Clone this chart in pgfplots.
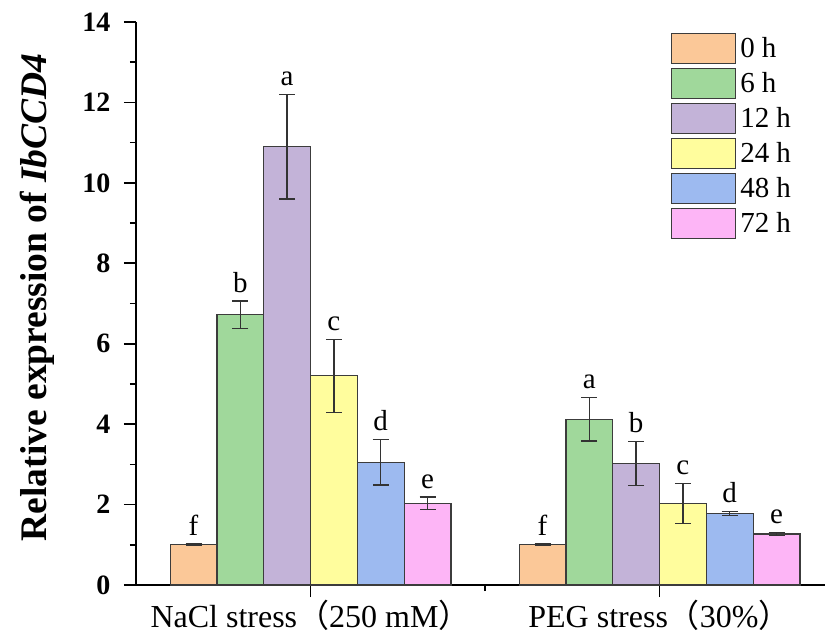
\documentclass[border=0pt]{standalone}
\usepackage{pgfplots}
\pgfplotsset{compat=1.18}
\usepackage{pgfplotstable}
\usepackage{fontspec}
\setmainfont{Liberation Serif}
\newfontfamily\cjk{Noto Sans CJK SC}
\definecolor{cA}{RGB}{251,200,152}
\definecolor{cB}{RGB}{160,216,155}
\definecolor{cC}{RGB}{195,179,216}
\definecolor{cD}{RGB}{255,253,157}
\definecolor{cE}{RGB}{157,186,240}
\definecolor{cF}{RGB}{253,181,246}
\definecolor{edge}{RGB}{60,60,60}
\pgfplotstableread{
x y err lab
1 1.00 0.02 f
2 1.00 0.02 f
}\tA
\pgfplotstableread{
x y err lab
1 6.72 0.34 b
2 4.12 0.54 a
}\tB
\pgfplotstableread{
x y err lab
1 10.90 1.30 a
2 3.02 0.55 b
}\tC
\pgfplotstableread{
x y err lab
1 5.20 0.91 c
2 2.03 0.50 c
}\tD
\pgfplotstableread{
x y err lab
1 3.05 0.56 d
2 1.78 0.05 d
}\tE
\pgfplotstableread{
x y err lab
1 2.03 0.16 e
2 1.27 0.04 e
}\tF
\pgfplotsset{
  mybar/.style={
    draw=edge, line width=1.2pt,
    error bars/y dir=both, error bars/y explicit,
    error bars/error bar style={line width=1.3pt, draw=black!80},
    error bars/error mark options={rotate=90, mark size=8pt, line width=1.3pt, draw=black!80},
    point meta=explicit symbolic,
    nodes near coords,
    visualization depends on={\thisrow{err} \as \myerr},
    nodes near coords style={anchor=south, inner sep=0pt, shift={(axis direction cs:0,\myerr)}, yshift=8pt, font=\fontsize{29}{29}\selectfont, text=black},
  }
}
\begin{document}
\begin{tikzpicture}
\begin{axis}[
  scale only axis, width=689.5pt, height=563pt,
  xmin=0.5, xmax=2.4756, ymin=0, ymax=14,
  axis x line*=bottom, axis y line*=left,
  axis line style={line width=1.6pt, black},
  xtick={1,2}, minor xtick={1.5},
  xticklabels={NaCl stress{\cjk （}250 mM{\cjk ）}, PEG stress{\cjk （}30\%{\cjk ）}},
  ytick={0,2,...,14}, minor ytick={1,3,...,13},
  tick align=outside, major tick length=12pt, minor tick length=6pt,
  every tick/.style={line width=1.6pt, black},
  /pgf/number format/assume math mode=true,
  yticklabel style={font=\fontsize{28}{28}\selectfont\bfseries, xshift=-10pt},
  xticklabel style={font=\fontsize{32}{32}\selectfont, yshift=0pt},
  ylabel={Relative expression of \textit{IbCCD4}},
  ylabel style={at={(axis description cs:-0.1436,0.511)}, anchor=center, font=\fontsize{37.5}{37.5}\selectfont\bfseries},
  ybar=0pt, bar width=46.8pt,
  legend style={at={(rel axis cs:0.775,0.9815)}, anchor=north west, draw=none, fill=none,
    font=\fontsize{29}{29}\selectfont, inner sep=0pt, row sep=3.8pt,
    nodes={inner xsep=4.5pt, inner ysep=0pt}, cells={anchor=west}},
  legend image code/.code={\draw[#1, line width=1.2pt] (0pt,-15pt) rectangle (64pt,15pt);},
]
\addplot[mybar, fill=cA] table[x=x,y=y,y error=err,meta=lab] {\tA};
\addplot[mybar, fill=cB] table[x=x,y=y,y error=err,meta=lab] {\tB};
\addplot[mybar, fill=cC] table[x=x,y=y,y error=err,meta=lab] {\tC};
\addplot[mybar, fill=cD] table[x=x,y=y,y error=err,meta=lab] {\tD};
\addplot[mybar, fill=cE] table[x=x,y=y,y error=err,meta=lab] {\tE};
\addplot[mybar, fill=cF] table[x=x,y=y,y error=err,meta=lab] {\tF};
\legend{0 h, 6 h, 12 h, 24 h, 48 h, 72 h}
\coordinate (O) at (rel axis cs:0,0);
\end{axis}
\pgfresetboundingbox
\path[use as bounding box] ([xshift=-136pt,yshift=-50pt]O) rectangle ++(825pt,635pt);
\end{tikzpicture}
\end{document}
